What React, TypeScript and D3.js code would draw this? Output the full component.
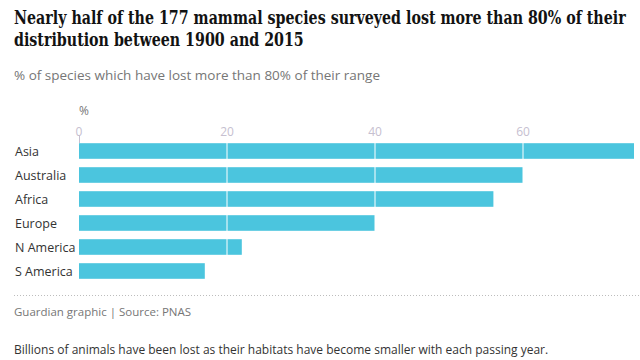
import React, { useLayoutEffect, useRef, useState } from "react";
import * as d3 from "d3";

const categories = ["Asia", "Australia", "Africa", "Europe", "N America", "S America"];
const values = [75, 60, 56, 40, 22, 17];
const tickValues = [0, 20, 40, 60];

const title1 = "Nearly half of the 177 mammal species surveyed lost more than 80% of their";
const title2 = "distribution between 1900 and 2015";
const subtitle = "% of species which have lost more than 80% of their range";
const unitLabel = "%";
const source = "Guardian graphic | Source: PNAS";
const caption = "Billions of animals have been lost as their habitats have become smaller with each passing year.";

const W = 640;
const H = 360;
const sans = "'Open Sans', 'Noto Sans', sans-serif";
const serif = "'DejaVu Serif Condensed', 'DejaVu Serif', serif";

export default function App() {
  const titleRef = useRef<SVGTextElement>(null);
  const [titleSize, setTitleSize] = useState(18);

  useLayoutEffect(() => {
    const el = titleRef.current;
    if (!el) return;
    const w = el.getComputedTextLength();
    if (w > 0) {
      const target = 612;
      const next = +(titleSize * (target / w)).toFixed(2);
      if (Math.abs(next - titleSize) > 0.05) setTitleSize(next);
    }
  }, [titleSize]);

  const x = d3.scaleLinear().domain([0, 75]).range([79, 634]);
  const y = d3
    .scaleBand<string>()
    .domain(categories)
    .range([139, 283])
    .paddingInner(0.35)
    .paddingOuter(0.175);

  const barColor = "#4bc5de";
  const stretch = 1.2;

  return (
    <svg
      width={W}
      height={H}
      style={{ position: "absolute", left: 0, top: 0, background: "#fff" }}
    >
      <g transform={`translate(14,24) scale(1,${stretch})`}>
        <text ref={titleRef} x={0} y={0} fontFamily={serif} fontWeight="bold" fontSize={titleSize}
          fill="#121212">
          {title1}
        </text>
      </g>
      <g transform={`translate(14,46) scale(1,${stretch})`}>
        <text x={0} y={0} fontFamily={serif} fontWeight="bold" fontSize={titleSize} fill="#121212">
          {title2}
        </text>
      </g>
      <text x={14} y={80} fontFamily={sans} fontSize={13.5} fill="#767676">
        {subtitle}
      </text>

      <text x={x(0)} y={115} fontFamily={sans} fontSize={12} fill="#767676">
        {unitLabel}
      </text>

      {tickValues.map((t) => (
        <text key={"tl" + t} x={x(t)} y={136} fontFamily={sans} fontSize={12}
          fill="#c6c0d0" textAnchor="middle">
          {t}
        </text>
      ))}
      <line x1={x(0) + 0.5} x2={x(0) + 0.5} y1={136} y2={143} stroke="#c6c0d0" strokeWidth={1} />

      {categories.map((c, i) => (
        <g key={c}>
          <rect x={x(0)} y={y(c)} width={x(values[i]) - x(0)} height={y.bandwidth()} fill={barColor} />
          <text x={15} y={(y(c) as number) + y.bandwidth() / 2 + 4.5} fontFamily={sans}
            fontSize={12.5} fill="#333">
            {c}
          </text>
        </g>
      ))}

      {tickValues.filter((t) => t > 0).map((t) => (
        <line key={"g" + t} x1={x(t)} x2={x(t)} y1={137} y2={283} stroke="#fff" strokeWidth={1} />
      ))}

      <line x1={14} x2={640} y1={295.5} y2={295.5} stroke="#bdbdbd" strokeWidth={1}
        strokeDasharray="1,2" />
      <text x={14} y={316} fontFamily={sans} fontSize={11.5} fill="#767676">
        {source}
      </text>
      <text x={14} y={354} fontFamily={sans} fontSize={12} fill="#333">
        {caption}
      </text>
    </svg>
  );
}
